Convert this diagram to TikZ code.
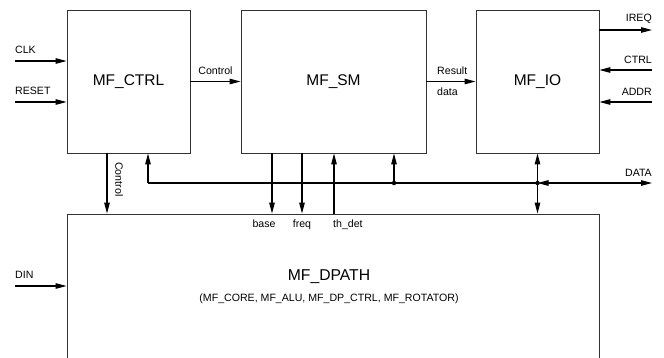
\documentclass[tikz,border=0pt]{standalone}
\usepackage{fontspec}
\setmainfont{Liberation Sans}
\usetikzlibrary{arrows.meta,positioning,calc}
\tikzset{
  %% Blocks
  mfBlock/.style={draw=black!80, line width=0.9pt, inner sep=0pt,
    font=\fontsize{15.5}{18}\selectfont},
  %% Signals
  mfSig/.style={-{Triangle[length=11pt,width=5.5pt]}, line width=1.1pt},
  mfBi/.style={{Triangle[length=11pt,width=5.5pt]}-{Triangle[length=11pt,width=5.5pt]}, line width=1.1pt},
  mfWire/.style={line width=1.1pt},
  %% Labels and junctions
  mfLbl/.style={font=\fontsize{10.6}{12}\selectfont, inner sep=0pt},
  mfDot/.style={circle, fill, inner sep=0pt, minimum size=4.5pt},
}

\begin{document}
\begin{tikzpicture}[x=1pt, y=-1pt]
\useasboundingbox (0,0) rectangle (664,357);
\clip (0,0) rectangle (664,357);

%% Blocks
\node[mfBlock, minimum width=123pt, minimum height=143pt] (ctrl) at (128.5,81.5) {MF\_CTRL};
\node[mfBlock, minimum width=185pt, minimum height=143pt] (sm)   at (333.5,81.5) {MF\_SM};
\node[mfBlock, minimum width=123pt, minimum height=143pt] (io)   at (537.5,81.5) {MF\_IO};
\node[mfBlock, minimum width=532pt, minimum height=170pt] (dpath) at (333,299) {};
\node[font=\fontsize{15.7}{18}\selectfont, inner sep=0pt] (dpName) at (329,277) {MF\_DPATH};
\node[mfLbl] (dpSub) at (329,299) {(MF\_CORE, MF\_ALU, MF\_DP\_CTRL, MF\_ROTATOR)};

%% Free ends and junctions
\coordinate (clkIn)   at (15,61);
\coordinate (rstIn)   at (15,102);
\coordinate (dinIn)   at (15,286);
\coordinate (ireqOut) at (652,30);
\coordinate (ctrlIn)  at (652,70);
\coordinate (addrIn)  at (652,102);
\coordinate (busW)    at (148,183);
\coordinate (busE)    at (652,183);
\coordinate (jSM)     at (394,183);
\coordinate (jIO)     at (537.5,183);
\coordinate (xCtl)    at (107,0);
\coordinate (xBase)   at (272,0);
\coordinate (xFreq)   at (302,0);
\coordinate (xTh)     at (334,0);

%% MF_CTRL inputs
\draw[mfSig] (clkIn) -- (clkIn -| ctrl.west);
\node[mfLbl, anchor=south west] (clkLbl) at ([yshift=7pt]clkIn) {CLK};
\draw[mfSig] (rstIn) -- (rstIn -| ctrl.west);
\node[mfLbl, anchor=south west] (rstLbl) at ([yshift=7pt]rstIn) {RESET};

%% Between blocks
\draw[mfSig] (ctrl.east) -- (sm.west);
\node[mfLbl, anchor=south] (ctlLbl) at (215.5,75) {Control};
\draw[mfSig] (sm.east) -- (io.west);
\node[mfLbl, anchor=south west] (resLbl) at (437,75) {Result};
\node[mfLbl, anchor=north west] (datLbl) at (437,88) {data};

%% MF_IO pins
\draw[mfSig] (ireqOut -| io.east) -- (ireqOut);
\node[mfLbl, anchor=south east] (ireqLbl) at ([yshift=6pt]ireqOut) {IREQ};
\draw[mfSig] (ctrlIn) -- (ctrlIn -| io.east);
\node[mfLbl, anchor=south east] (ctrlLbl) at ([yshift=6pt]ctrlIn) {CTRL};
\draw[mfSig] (addrIn) -- (addrIn -| io.east);
\node[mfLbl, anchor=south east] (addrLbl) at ([yshift=6pt]addrIn) {ADDR};

%% Down to MF_DPATH
\draw[mfSig] (xCtl |- ctrl.south) -- (xCtl |- dpath.north);
\node[mfLbl, rotate=-90, anchor=south west] (ctlvLbl) at (115,162) {Control};
\draw[mfSig] (xBase |- sm.south) -- (xBase |- dpath.north);
\node[mfLbl, anchor=north] (baseLbl) at (264,220) {base};
\draw[mfSig] (xFreq |- sm.south) -- (xFreq |- dpath.north);
\node[mfLbl, anchor=north] (freqLbl) at (302,220) {freq};
\draw[mfSig] (xTh |- dpath.north) -- (xTh |- sm.south);
\node[mfLbl, anchor=north west] (thLbl) at (333,220) {th\_det};

%% DATA bus
\draw[mfSig] (busW) -- (busW |- ctrl.south);
\draw[mfWire] (busW) -- (jIO);
\draw[mfSig] (jSM) -- (jSM |- sm.south);
\draw[mfSig] (jIO) -- (io.south);
\draw[mfSig] (jIO) -- (jIO |- dpath.north);
\draw[mfBi] (jIO) -- (busE);
\node[mfLbl, anchor=south east] (dataLbl) at ([yshift=6pt]busE) {DATA};
\node[mfDot] (dotSM) at (jSM) {};
\node[mfDot] (dotIO) at (jIO) {};

%% MF_DPATH input
\draw[mfSig] (dinIn) -- (dinIn -| dpath.west);
\node[mfLbl, anchor=south west] (dinLbl) at ([yshift=7pt]dinIn) {DIN};

\end{tikzpicture}
\end{document}
